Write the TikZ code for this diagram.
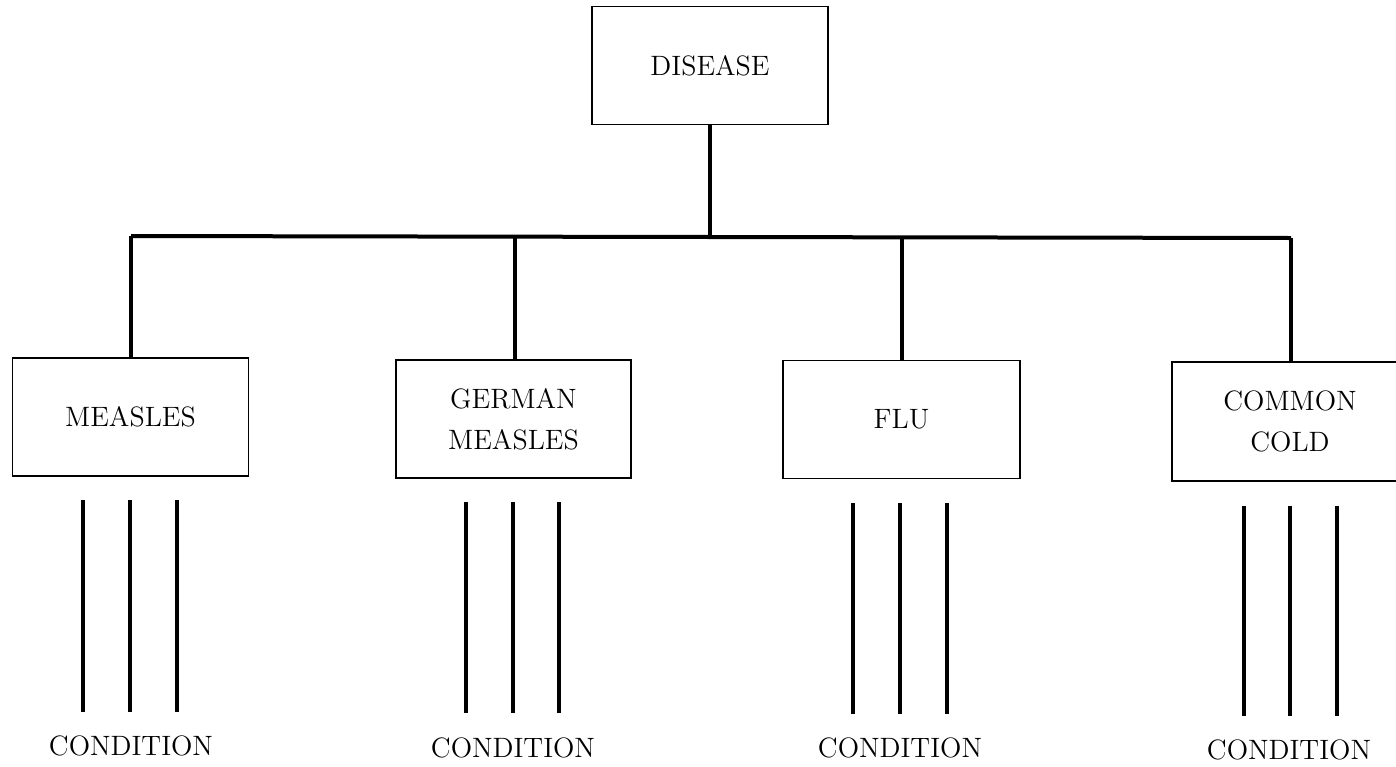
\documentclass[tikz,border=0pt]{standalone}
\usetikzlibrary{calc}
\begin{document}
\begin{tikzpicture}[x=0.5pt,y=-0.5pt,
  lbl/.style={font=\fontsize{14}{20.5}\selectfont, align=center, inner sep=0pt},
  box/.style={lbl, draw, line width=0.9pt, minimum width=118pt, minimum height=59pt},
  conn/.style={line width=2pt},
  bar/.style={line width=2pt}]
\useasboundingbox (0,0) rectangle (1396,766);
% top box
\node[box] (disease) at (710,65.5) {DISEASE};
% disease boxes
\node[box] (measles) at (130.5,417) {MEASLES};
\node[box, minimum width=117.5pt] (german) at (513.5,419) {GERMAN\\MEASLES};
\node[box, minimum width=118.5pt] (flu) at (901.5,419.5) {FLU};
\node[lbl] (cold) at (1290,421) {COMMON\\COLD};
\draw[line width=0.9pt] (1400,362) -- (1172,362) -- (1172,481) -- (1400,481);
\coordinate (coldtop) at (1291,362);
% tree
\coordinate (hl) at (131,236);
\coordinate (hr) at (1291,238);
\coordinate (hg) at (515,237);
\coordinate (hf) at (902,237);
\draw[conn] (disease.south) -- (disease.south |- hl);
\draw[conn] (hl) -- (hr);
\draw[conn] (measles.north -| hl) -- (hl);
\draw[conn] (german.north -| hg) -- (hg);
\draw[conn] (flu.north -| hf) -- (hf);
\draw[conn] (coldtop) -- (hr);
% condition labels
\node[lbl] (c1) at (131,746) {CONDITION};
\node[lbl] (c2) at (513,748) {CONDITION};
\node[lbl] (c3) at (900,748) {CONDITION};
\node[lbl] (c4) at (1289,750) {CONDITION};
% condition bars
\foreach \x/\a/\b in {83/500/712,130/500/712,177/500/712,
                      466/502/713,513/502/713,559/502/713,
                      853/503/714,900/503/714,947/503/714,
                      1244/506/716,1290/506/716,1337/506/716}
  \draw[bar] (\x,\a) -- (\x,\b);
\end{tikzpicture}
\end{document}
